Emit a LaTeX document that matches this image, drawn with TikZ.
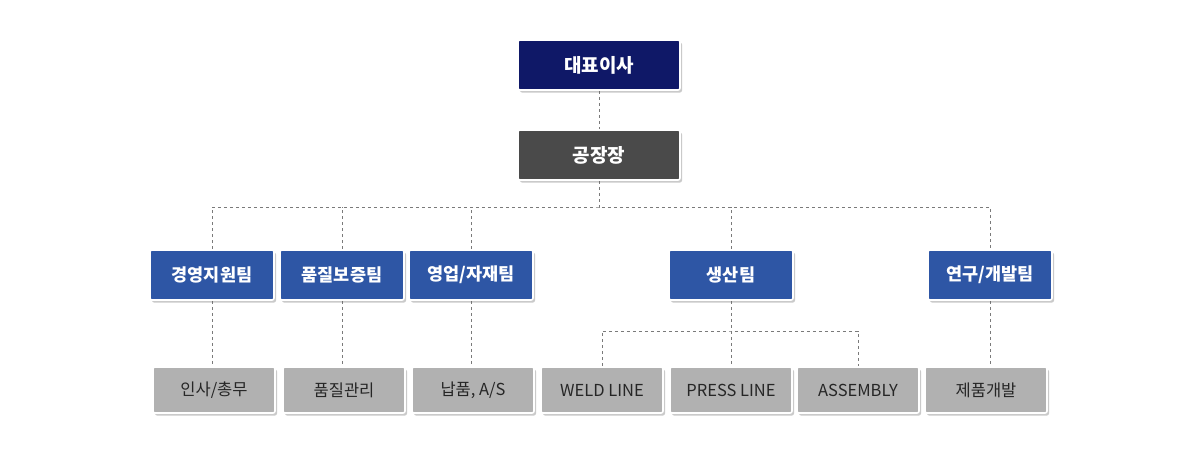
\documentclass[tikz,border=0pt]{standalone}
\usepackage{fontspec}
\setmainfont{Noto Sans CJK KR}
\usetikzlibrary{shadows,backgrounds}
\definecolor{navy}{HTML}{0F1867}
\definecolor{chief}{HTML}{4A4A4A}
\definecolor{team}{HTML}{2E56A5}
\definecolor{part}{HTML}{B1B1B1}
\definecolor{linkgray}{HTML}{7A7A7A}
\tikzset{
  box/.style={draw=white, line width=1.6pt, rounded corners=2pt,
    drop shadow={shadow xshift=2pt, shadow yshift=-2.5pt, opacity=0.35, fill=black!60},
    inner sep=0pt, align=center},
  topbox/.style={box, fill=#1, text=white, minimum width=162pt, minimum height=50pt,
    font=\fontsize{19}{22}\selectfont\bfseries},
  teambox/.style={box, fill=team, text=white, minimum width=124pt, minimum height=50pt,
    font=\fontsize{17.5}{20}\selectfont\bfseries},
  partbox/.style={box, fill=part, text=black!85, minimum width=122pt, minimum height=46pt,
    font=\fontsize{16.5}{19}\selectfont},
  link/.style={draw=linkgray, line width=0.8pt, dash pattern=on 3.5pt off 2.5pt}
}
\begin{document}
\begin{tikzpicture}[x=1pt,y=-1pt]
    \useasboundingbox (0,0) rectangle (1200,469);

    % top of the chart
    \node[topbox=navy] (ceo) at (599,65) {대표이사};
    \node[topbox=chief] (plant) at (599,155) {공장장};

    % teams
    \node[teambox] (admin) at (212,275) {경영지원팀};
    \node[teambox] (qa) at (342,275) {품질보증팀};
    \node[teambox] (sales) at (471,275) {영업/자재팀};
    \node[teambox] (prod) at (731,275) {생산팀};
    \node[teambox] (rnd) at (990,275) {연구/개발팀};

    % parts under the teams
    \node[partbox] (hr) at (214,390) {인사/총무};
    \node[partbox] (qc) at (344,390) {품질관리};
    \node[partbox] (deliv) at (473,390) {납품, A/S};
    \node[partbox] (weld) at (602,390) {WELD LINE};
    \node[partbox] (press) at (731,390) {PRESS LINE};
    \node[partbox] (assy) at (858,390) {ASSEMBLY};
    \node[partbox] (dev) at (986,390) {제품개발};

    \coordinate (bus) at (599,207);
    \coordinate (prodbus) at (731,331);

    % dashed connectors
    \begin{scope}[on background layer]
        \draw[link] (ceo) -- (plant);
        \draw[link] (plant) -- (bus);
        \draw[link] (admin.north) |- (bus) -| (rnd.north);
        \draw[link] (qa.north) -- (qa.north |- bus);
        \draw[link] (sales.north) -- (sales.north |- bus);
        \draw[link] (prod.north) -- (prod.north |- bus);
        \draw[link] (admin.south) -- (admin.south |- hr.north);
        \draw[link] (qa.south) -- (qa.south |- qc.north);
        \draw[link] (sales.south) -- (sales.south |- deliv.north);
        \draw[link] (rnd.south) -- (rnd.south |- dev.north);
        \draw[link] (prod.south) -- (press.north);
        \draw[link] (weld.north) |- (prodbus) -| (assy.north);
    \end{scope}
\end{tikzpicture}
\end{document}
